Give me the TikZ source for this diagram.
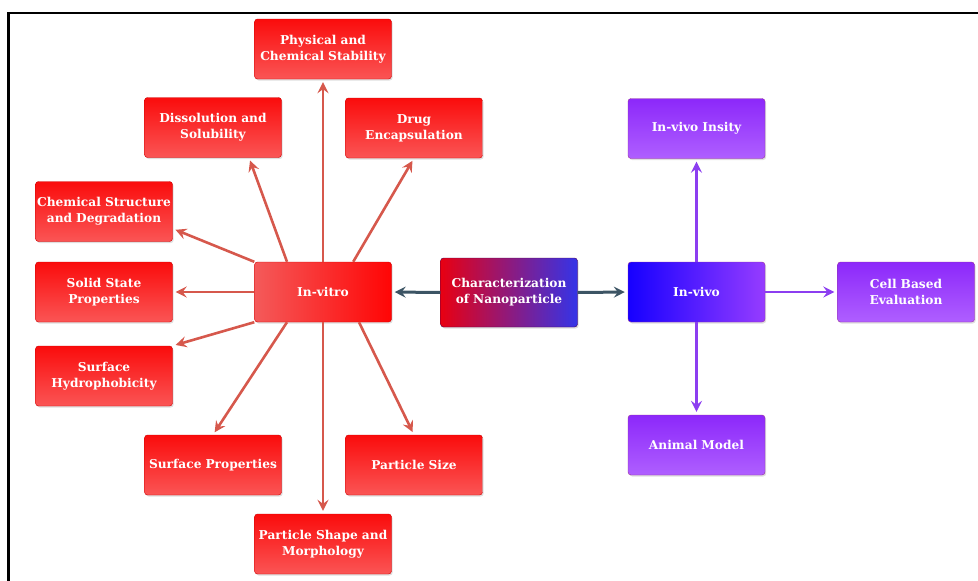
\documentclass[tikz,border=0pt]{standalone}
\usepackage{fontspec}
\setmainfont{DejaVu Serif}
\usepackage{tikz}
\usetikzlibrary{arrows.meta}
\usetikzlibrary{shadows}

\definecolor{vitroline}{RGB}{214,88,76}
\definecolor{vivoline}{RGB}{140,62,240}
\definecolor{slateline}{RGB}{60,84,100}

\begin{document}
\begin{tikzpicture}[x = 1pt, y = -1pt,
  box/.style = {rectangle, rounded corners=3pt, minimum width=137pt, minimum height=60pt,
    text width=136pt, inner sep=0.5pt, align=center, text=white,
    font=\bfseries\fontsize{12.2}{16}\selectfont,
    drop shadow={shadow xshift=1.2pt, shadow yshift=-1.5pt, opacity=0.25}},
  redbox/.style = {box, draw=red!80!black, line width=0.4pt,
    top color={rgb,255:red,250;green,12;blue,12}, bottom color={rgb,255:red,250;green,85;blue,85}},
  purplebox/.style = {box, draw=violet!80!white, line width=0.4pt,
    top color={rgb,255:red,140;green,40;blue,250}, bottom color={rgb,255:red,175;green,95;blue,255}},
  redarrow/.style = {draw=vitroline, line width=2.6pt, -{Stealth[length=11pt, width=11pt, inset=4pt]}, shorten >=3pt},
  purplearrow/.style = {draw=vivoline, line width=2.6pt, -{Stealth[length=11pt, width=11pt, inset=4pt]}, shorten >=3pt},
  slatearrow/.style = {draw=slateline, line width=3pt, -{Stealth[length=11pt, width=11pt, inset=4pt]}, shorten >=3pt}
]
\useasboundingbox (0, 0) rectangle (978, 581);

%frame
\draw [line width = 2.6pt] (8.7, 581) -- (8.7, 13) -- (978, 13);

%in-vitro side
\node [redbox, left color={rgb,255:red,244;green,90;blue,90}, right color={rgb,255:red,255;green,5;blue,5}] (invitro) at (323, 292) {In-vitro};
\node [redbox] (stability) at (323, 49) {Physical and\\Chemical Stability};
\node [redbox] (dissolution) at (213, 127.5) {Dissolution and\\Solubility};
\node [redbox] (drug) at (414, 128) {Drug\\Encapsulation};
\node [redbox] (chemical) at (104, 211.5) {Chemical Structure\\and Degradation};
\node [redbox] (solid) at (104, 292) {Solid State\\Properties};
\node [redbox] (hydro) at (104, 376) {Surface\\Hydrophobicity};
\node [redbox] (surface) at (213, 465) {Surface Properties};
\node [redbox] (size) at (414, 465) {Particle Size};
\node [redbox] (shape) at (323, 544) {Particle Shape and\\Morphology};

%centre
\node [box, minimum height=69pt, draw=violet!60!black, line width=0.4pt,
  left color={rgb,255:red,232;green,0;blue,18}, right color={rgb,255:red,52;green,52;blue,232}] (charac) at (509, 292.5) {Characterization\\of Nanoparticle};

%in-vivo side
\node [purplebox, left color={rgb,255:red,22;green,0;blue,255}, right color={rgb,255:red,150;green,60;blue,255}] (invivo) at (696.5, 292) {In-vivo};
\node [purplebox] (insity) at (696.5, 128.5) {In-vivo Insity};
\node [purplebox] (cell) at (906, 292) {Cell Based\\Evaluation};
\node [purplebox] (animal) at (696.5, 445) {Animal Model};

%arrows
\draw [redarrow] (invitro.north) -- (stability.south);
\draw [redarrow] (invitro.140) -- (dissolution.-40);
\draw [redarrow] (invitro.45) -- (drug.south);
\draw [redarrow] (invitro.north west) -- (chemical.-14);
\draw [redarrow] (invitro.west) -- (solid.east);
\draw [redarrow] (invitro.south west) -- (hydro.north east);
\draw [redarrow] (invitro.-140) -- (surface.north);
\draw [redarrow] (invitro.-40) -- (size.north);
\draw [redarrow] (invitro.south) -- (shape.north);

\draw [slatearrow] (charac.west) -- (invitro.east);
\draw [slatearrow] (charac.east) -- (invivo.west);

\draw [purplearrow] (invivo.north) -- (insity.south);
\draw [purplearrow] (invivo.east) -- (cell.west);
\draw [purplearrow] (invivo.south) -- (animal.north);

\end{tikzpicture}
\end{document}
